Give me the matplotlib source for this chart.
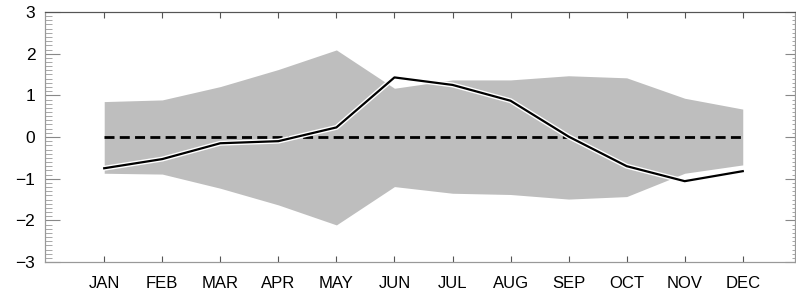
import matplotlib.pyplot as plt
import matplotlib.patheffects as pe
from matplotlib.ticker import MultipleLocator
import numpy as np

months = ['JAN', 'FEB', 'MAR', 'APR', 'MAY', 'JUN', 'JUL', 'AUG', 'SEP', 'OCT', 'NOV', 'DEC']
anomaly = [-0.75, -0.53, -0.15, -0.10, 0.23, 1.43, 1.25, 0.87, 0.01, -0.70, -1.06, -0.82]
upper = [0.85, 0.89, 1.21, 1.62, 2.09, 1.17, 1.37, 1.37, 1.47, 1.42, 0.93, 0.67]
lower = [-0.87, -0.89, -1.23, -1.63, -2.11, -1.19, -1.35, -1.38, -1.49, -1.43, -0.87, -0.67]
baseline = [0.0] * 12

plt.rcParams['font.family'] = ['Liberation Sans', 'DejaVu Sans']

x = np.arange(1, 13)

fig = plt.figure(figsize=(7.96, 2.92), dpi=100)
ax = fig.add_axes([45 / 796, 30 / 292, 750 / 796, 250 / 292])

ax.fill_between(x, lower, upper, color='#bebebe', linewidth=0)
ax.plot(x, baseline, color='black', linewidth=2, linestyle=(0, (3.6, 1.9)))
ax.plot(x, anomaly, color='black', linewidth=1.6,
        path_effects=[pe.Stroke(linewidth=3.6, foreground='white'), pe.Normal()])

ax.set_xlim(-0.02, 12.9)
ax.set_ylim(-3, 3)
ax.set_xticks(x)
ax.set_xticklabels(months)
ax.set_yticks(range(-3, 4))
ax.set_yticklabels(['\u22123', '\u22122', '\u22121', '0', '1', '2', '3'])
ax.yaxis.set_minor_locator(MultipleLocator(0.1))

ax.tick_params(axis='x', direction='in', top=True, bottom=True, length=4,
               width=0.8, color='#555555', labelsize=12, pad=10)
ax.tick_params(axis='y', which='major', direction='in', left=True, right=False,
               length=11, width=0.8, color='#888888', labelsize=12.5, pad=7)
ax.tick_params(axis='y', which='minor', direction='in', left=True, right=False,
               length=5, width=0.6, color='#999999')

ax2 = ax.twinx()
ax2.set_ylim(-3, 3)
ax2.set_yticks(range(-3, 4))
ax2.yaxis.set_minor_locator(MultipleLocator(0.1))
ax2.tick_params(axis='y', which='major', direction='in', length=7, width=0.8,
                color='#888888', labelright=False)
ax2.tick_params(axis='y', which='minor', direction='in', length=2.5, width=0.6,
                color='#999999')

for a in (ax, ax2):
    for side in ['left', 'right', 'bottom']:
        a.spines[side].set_color('#999999')
        a.spines[side].set_linewidth(0.8)
    a.spines['top'].set_color('#555555')
    a.spines['top'].set_linewidth(0.8)

plt.savefig('out.png', dpi=100)
